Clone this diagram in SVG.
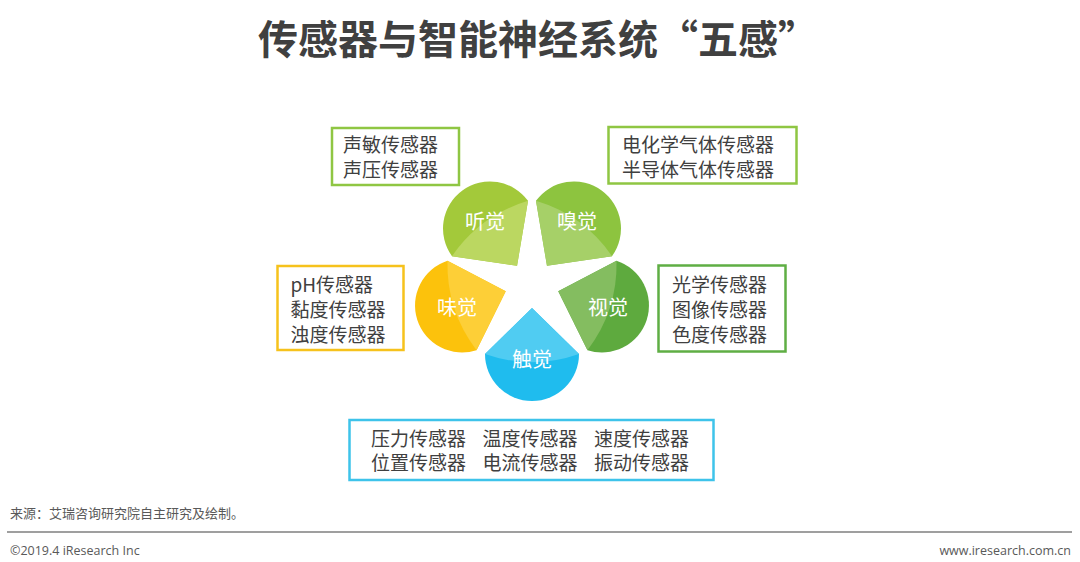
<svg xmlns="http://www.w3.org/2000/svg" width="1080" height="562" viewBox="0 0 1080 562">
<style>
.title{font-family:"Noto Sans CJK SC","Noto Sans",sans-serif;font-size:40px;font-weight:700;fill:#404040}
.bt{font-family:"Noto Sans CJK SC","Noto Sans",sans-serif;font-size:19px;fill:#404040}
.bt2{font-family:"Noto Sans CJK SC","Noto Sans",sans-serif;font-size:19px;fill:#404040}
.pt{font-family:"Noto Sans CJK SC","Noto Sans",sans-serif;font-size:20px;fill:#ffffff;text-anchor:middle}
.box{fill:#ffffff;stroke-width:2.5}
.foot{font-family:"Noto Sans CJK SC","Noto Sans",sans-serif;font-size:13px;fill:#595959}
.lat{font-family:"Open Sans","Liberation Sans",sans-serif;font-size:12.5px;fill:#595959}
</style>
<defs>
<path id="petal" d="M-47,0 A47,47 0 0 0 47,0 L0,-46 Z"/>
<path id="petalHi" d="M-47,0 L0,-46 L47,0 A142,142 0 0 1 -47,0 Z"/>
</defs>
<rect width="1080" height="562" fill="#ffffff"/>
<text class="title" x="258" y="54">传感器与智能神经系统“五感”</text>

<g id="petal-hearing">
<g transform="translate(490,228.5) rotate(144)"><use href="#petal" fill="#a3c93a"/><use href="#petalHi" fill="#bbd761"/></g>
<text class="pt" x="485" y="228.5">听觉</text>
</g>
<g id="petal-smell">
<g transform="translate(574,228.5) rotate(-144)"><use href="#petal" fill="#8dc43f"/><use href="#petalHi" fill="#a6d068"/></g>
<text class="pt" x="577" y="228.5">嗅觉</text>
</g>
<g id="petal-taste">
<g transform="translate(462,305.5) rotate(72)"><use href="#petal" fill="#fcc20c"/><use href="#petalHi" fill="#fdcf37"/></g>
<text class="pt" x="457" y="314.5">味觉</text>
</g>
<g id="petal-sight">
<g transform="translate(602,305.5) rotate(-72)"><use href="#petal" fill="#5eaa3e"/><use href="#petalHi" fill="#84bd60"/></g>
<text class="pt" x="608" y="314.5">视觉</text>
</g>
<g id="petal-touch">
<g transform="translate(532,354)"><use href="#petal" fill="#1fbcee"/><use href="#petalHi" fill="#50ccf2"/></g>
<text class="pt" x="532" y="366.5">触觉</text>
</g>

<g id="box-hearing">
<rect class="box" x="332" y="128" width="127" height="57" stroke="#8fc643"/>
<text class="bt" x="343" y="152">声敏传感器</text>
<text class="bt" x="343" y="177">声压传感器</text>
</g>
<g id="box-smell">
<rect class="box" x="608.5" y="127" width="188" height="56.5" stroke="#8fc643"/>
<text class="bt" x="622" y="152">电化学气体传感器</text>
<text class="bt" x="622" y="177">半导体气体传感器</text>
</g>
<g id="box-taste">
<rect class="box" x="277.5" y="266" width="126" height="84" stroke="#f6c21c"/>
<text class="bt" x="290.5" y="292">pH传感器</text>
<text class="bt" x="290.5" y="317">黏度传感器</text>
<text class="bt" x="290.5" y="342">浊度传感器</text>
</g>
<g id="box-sight">
<rect class="box" x="658.5" y="265.5" width="127" height="86" stroke="#5fae44"/>
<text class="bt" x="672" y="292">光学传感器</text>
<text class="bt" x="672" y="317">图像传感器</text>
<text class="bt" x="672" y="342">色度传感器</text>
</g>
<g id="box-touch">
<rect class="box" x="349.5" y="420" width="364" height="60" stroke="#3ec3ea"/>
<text class="bt2" x="371" y="445.5">压力传感器</text>
<text class="bt2" x="482.5" y="445.5">温度传感器</text>
<text class="bt2" x="594" y="445.5">速度传感器</text>
<text class="bt2" x="371" y="470">位置传感器</text>
<text class="bt2" x="482.5" y="470">电流传感器</text>
<text class="bt2" x="594" y="470">振动传感器</text>
</g>

<g id="footer">
<text class="foot" x="10" y="518">来源：艾瑞咨询研究院自主研究及绘制。</text>
<line x1="7" y1="532" x2="1072" y2="532" stroke="#7f7f7f" stroke-width="1.5"/>
<text class="lat" x="10" y="554.5">©2019.4 iResearch Inc</text>
<text class="lat" x="1071" y="554.5" text-anchor="end">www.iresearch.com.cn</text>
</g>
</svg>
